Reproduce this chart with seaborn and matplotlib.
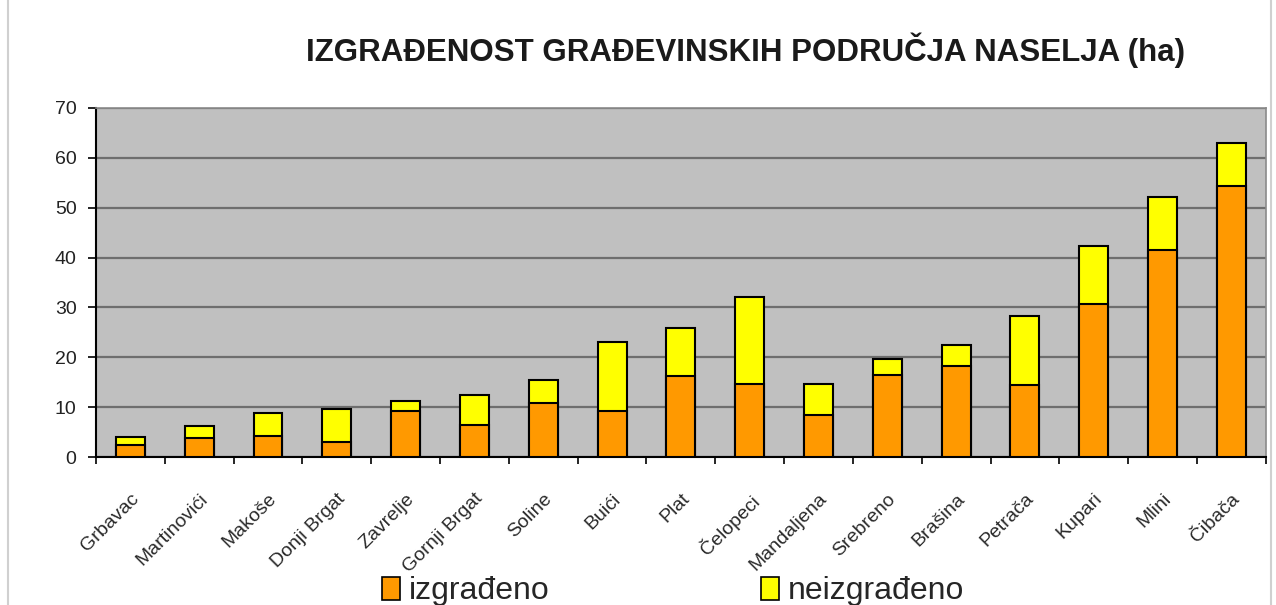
import numpy as np
import pandas as pd
import matplotlib
matplotlib.use("Agg")
import matplotlib.pyplot as plt
import seaborn as sns
from matplotlib.patches import Patch, Rectangle

naselja = ["Grbavac", "Martinovići", "Makoše", "Donji Brgat", "Zavrelje",
           "Gornji Brgat", "Soline", "Buići", "Plat", "Čelopeci", "Mandaljena",
           "Srebreno", "Brašina", "Petrača", "Kupari", "Mlini", "Čibača"]
izgradeno = [2.5, 3.8, 4.2, 3.0, 9.2, 6.4, 10.9, 9.2, 16.2, 14.7, 8.4,
             16.4, 18.3, 14.5, 30.6, 41.6, 54.4]
neizgradeno = [1.5, 2.4, 4.7, 6.6, 2.0, 6.0, 4.5, 13.9, 9.7, 17.4, 6.2,
               3.2, 4.2, 13.8, 11.7, 10.5, 8.5]

df = pd.DataFrame({"naselje": naselja, "izgrađeno": izgradeno,
                   "neizgrađeno": neizgradeno})
df["ukupno"] = df["izgrađeno"] + df["neizgrađeno"]

sns.set_style("white")
plt.rcParams['font.family'] = ['Liberation Sans', 'DejaVu Sans']

fig = plt.figure(figsize=(12.76, 6.05), dpi=100)
ax = fig.add_axes([0.0752, 0.2446, 0.9168, 0.5769])
ax.set_facecolor("#C0C0C0")

# yellow = total, orange drawn on top
sns.barplot(data=df, x="naselje", y="ukupno", color="#FFFF00", saturation=1,
            width=0.42, edgecolor="black", linewidth=1.5, ax=ax, zorder=3)
sns.barplot(data=df, x="naselje", y="izgrađeno", color="#FF9900", saturation=1,
            width=0.42, edgecolor="black", linewidth=1.5, ax=ax, zorder=3)

ax.set_ylim(0, 70)
ax.set_xlim(-0.5, len(naselja) - 0.5)
ax.set_yticks(range(0, 71, 10))
ax.yaxis.grid(True, color="#6E6E6E", linewidth=1.6)
ax.set_axisbelow(True)
ax.set_xlabel("")
ax.set_ylabel("")

ax.set_xticks(np.arange(len(naselja)))
ax.set_xticklabels(naselja, rotation=45, ha="right", rotation_mode="anchor",
                   fontsize=14, color="#2A2A2A")
ax.tick_params(axis="x", which="major", length=0, pad=24)
ax.set_xticks(np.arange(-0.5, len(naselja), 1), minor=True)
ax.tick_params(axis="x", which="minor", length=5, width=1.2, color="black",
               direction="out", bottom=True)
ax.tick_params(axis="y", length=6, width=1.2, color="black", direction="out",
               left=True, labelsize=14, labelcolor="#222222", pad=8)

for s in ["left", "bottom"]:
    ax.spines[s].set_color("black")
    ax.spines[s].set_linewidth(1.5)
for s in ["top", "right"]:
    ax.spines[s].set_color("#8A8A8A")
    ax.spines[s].set_linewidth(1.2)

fig.text(0.584, 0.917, "IZGRAĐENOST GRAĐEVINSKIH PODRUČJA NASELJA (ha)",
         ha="center", va="center", fontsize=22.5, fontweight="bold",
         color="#1A1A1A")

# outer chart frame
fig.patches.append(Rectangle((0.006, -0.02), 0.99, 1.05, transform=fig.transFigure,
                             fill=False, edgecolor="#D0D0D0", linewidth=1.5))

handles = [Patch(facecolor="#FF9900", edgecolor="black", linewidth=1.2),
           Patch(facecolor="#FFFF00", edgecolor="black", linewidth=1.2)]
fig.legend(handles, ["izgrađeno", "neizgrađeno"], loc="lower left",
           bbox_to_anchor=(0.277, -0.05), ncol=2, frameon=False,
           fontsize=23, columnspacing=6.6, handlelength=0.55, handleheight=0.7,
           handletextpad=0.3)

fig.savefig("out.png", dpi=100)
